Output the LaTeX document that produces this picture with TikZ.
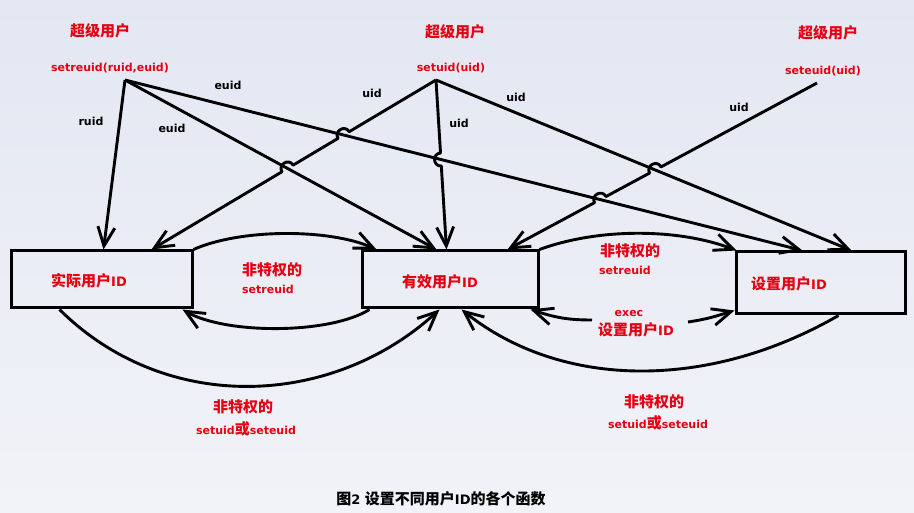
\documentclass[tikz,border=0pt]{standalone}
\usepackage{fontspec}
\setmainfont{DejaVu Sans}
\newfontfamily\cjk{Noto Sans CJK SC}
\usetikzlibrary{arrows.meta,calc,intersections}
\definecolor{bgtop}{RGB}{227,231,242}
\definecolor{bgbot}{RGB}{241,243,248}
\definecolor{myred}{RGB}{230,0,18}
\newcommand{\cn}[1]{{\fontsize{15}{18}\selectfont\cjk #1}}
\newcommand{\ltn}[1]{{\fontsize{13}{15}\selectfont #1}}
\newcommand{\mkhop}[4]{%
  \coordinate (#1a) at ($(#2)!6.5pt!(#3)$);
  \coordinate (#1b) at ($(#2)!6.5pt!(#4)$);
  \coordinate (#1c) at ($(#1a)!8.5pt!-90:(#2)$);
  \coordinate (#1d) at ($(#1b)!8.5pt!90:(#2)$);}
\tikzset{
  lab/.style={font=\bfseries\fontsize{11}{13}\selectfont, inner sep=0pt},
  rtxt/.style={lab, text=myred},
  btxt/.style={lab, text=black},
  idbox/.style={draw, line width=3pt, rectangle, inner sep=0pt},
  conn/.style={line width=2.9pt, line join=round, -{Straight Barb[length=19pt,width=17pt]}},
}
\begin{document}
\begin{tikzpicture}[x=1pt,y=-1pt]
\useasboundingbox (0,0) rectangle (914,513);
\shade[top color=bgtop, bottom color=bgbot] (0,0) rectangle (914,513);

% headers
\node[rtxt] (su1) at (100,31) {\cn{超级用户}};
\node[rtxt] (f1) at (110,68) {setreuid(ruid,euid)};
\node[rtxt] (su2) at (455,32) {\cn{超级用户}};
\node[rtxt] (f2) at (451,68) {setuid(uid)};
\node[rtxt] (su3) at (828,33) {\cn{超级用户}};
\node[rtxt] (f3) at (823,71) {seteuid(uid)};

% boxes
\node[idbox, minimum width=181pt, minimum height=57pt] (real) at (101.5,279.5) {};
\node[idbox, minimum width=176pt, minimum height=57pt] (eff) at (450,279.5) {};
\node[idbox, minimum width=169pt, minimum height=62pt] (sav) at (820.5,283) {};
\node[rtxt] (realt) at (89,281) {\cn{实际用户}\ltn{ID}};
\node[rtxt] (efft) at (440,282) {\cn{有效用户}\ltn{ID}};
\node[rtxt] (savt) at (789,284) {\cn{设置用户}\ltn{ID}};

% sources and targets
\coordinate (s1) at (125,80);
\coordinate (s2) at (436,80);
\coordinate (s3) at (817,83);
\coordinate (rT1) at ([xshift=94pt]real.north west);
\coordinate (rT2) at ([xshift=142pt]real.north west);
\coordinate (eT1) at ([xshift=76pt]eff.north west);
\coordinate (eT2) at ([xshift=86pt]eff.north west);
\coordinate (eT3) at ([xshift=147pt]eff.north west);
\coordinate (sT1) at ([xshift=68pt]sav.north west);
\coordinate (sT2) at ([xshift=117pt]sav.north west);

\path[name path=L2] (s1) -- (eT1);
\path[name path=L3] (s1) -- (sT1);
\path[name path=L4] (s2) -- (rT2);
\path[name path=L5] (s2) -- (eT2);
\path[name path=L6] (s2) -- (sT2);
\path[name path=L7] (s3) -- (eT3);
\path[name intersections={of=L4 and L3, by=X43}];
\path[name intersections={of=L4 and L2, by=X42}];
\path[name intersections={of=L5 and L3, by=X53}];
\path[name intersections={of=L7 and L6, by=X76}];
\path[name intersections={of=L7 and L3, by=X73}];
\mkhop{ha}{X43}{s2}{rT2}
\mkhop{hb}{X42}{s2}{rT2}
\mkhop{hc}{X53}{s2}{eT2}
\mkhop{hd}{X76}{s3}{eT3}
\mkhop{he}{X73}{s3}{eT3}

% straight connectors
\draw[conn] (s1) -- (rT1);
\draw[conn] (s1) -- (eT1);
\draw[conn] (s1) -- (sT1);
\draw[conn] (s2) -- (haa) .. controls (hac) and (had) .. (hab)
                 -- (hba) .. controls (hbc) and (hbd) .. (hbb) -- (rT2);
\draw[conn] (s2) -- (hca) .. controls (hcc) and (hcd) .. (hcb) -- (eT2);
\draw[conn] (s2) -- (sT2);
\draw[conn] (s3) -- (hda) .. controls (hdc) and (hdd) .. (hdb)
                 -- (hea) .. controls (hec) and (hed) .. (heb) -- (eT3);

% black labels
\node[btxt] (lr) at (91,121) {ruid};
\node[btxt] (le1) at (172,128) {euid};
\node[btxt] (le2) at (228,85) {euid};
\node[btxt] (lu1) at (372,93) {uid};
\node[btxt] (lu2) at (459,123) {uid};
\node[btxt] (lu3) at (516,97) {uid};
\node[btxt] (lu4) at (739,107) {uid};

% curved connectors
\draw[conn] (real.north east) .. controls +(47,-21) and +(-47,-21) .. ([xshift=16pt]eff.north west);
\draw[conn] ([xshift=9pt]eff.south west) .. controls +(-40,25) and +(43,25) .. ([xshift=-11pt]real.south east);
\draw[conn] ([xshift=50pt]real.south west) .. controls +(107,106) and +(-107,98) .. ([xshift=79pt]eff.south west);
\draw[conn] (eff.north east) .. controls +(60,-22) and +(-57,-22) .. ([xshift=2pt]sav.north west);
\coordinate (exL) at (592,320);
\coordinate (exR) at (688,322);
\draw[conn] (exL) .. controls +(-25,0) and +(25,8) .. ([xshift=-9pt]eff.south east);
\draw[conn] (exR) .. controls +(20,-3) and +(-20,6) .. ([yshift=5pt]sav.south west);
\draw[conn] ([xshift=-68pt]sav.south east) .. controls +(-130,75) and +(100,80) .. ([xshift=101pt]eff.south west);

% red labels
\node[rtxt] (n1) at (272,270) {\cn{非特权的}};
\node[rtxt] (n1b) at (268,289) {setreuid};
\node[rtxt] (n2) at (630,251) {\cn{非特权的}};
\node[rtxt] (n2b) at (625,270) {setreuid};
\node[rtxt] (ex1) at (629,313) {exec};
\node[rtxt] (ex2) at (636,330) {\cn{设置用户}\ltn{ID}};
\node[rtxt] (n3) at (243,407) {\cn{非特权的}};
\node[rtxt] (n3b) at (246,429) {setuid\cn{或}seteuid};
\node[rtxt] (n4) at (654,402) {\cn{非特权的}};
\node[rtxt] (n4b) at (658,423) {setuid\cn{或}seteuid};

% caption
\node[btxt] (cap) at (441,499) {\cn{图}\ltn{2 }\cn{设置不同用户}\ltn{ID}\cn{的各个函数}};
\end{tikzpicture}
\end{document}
